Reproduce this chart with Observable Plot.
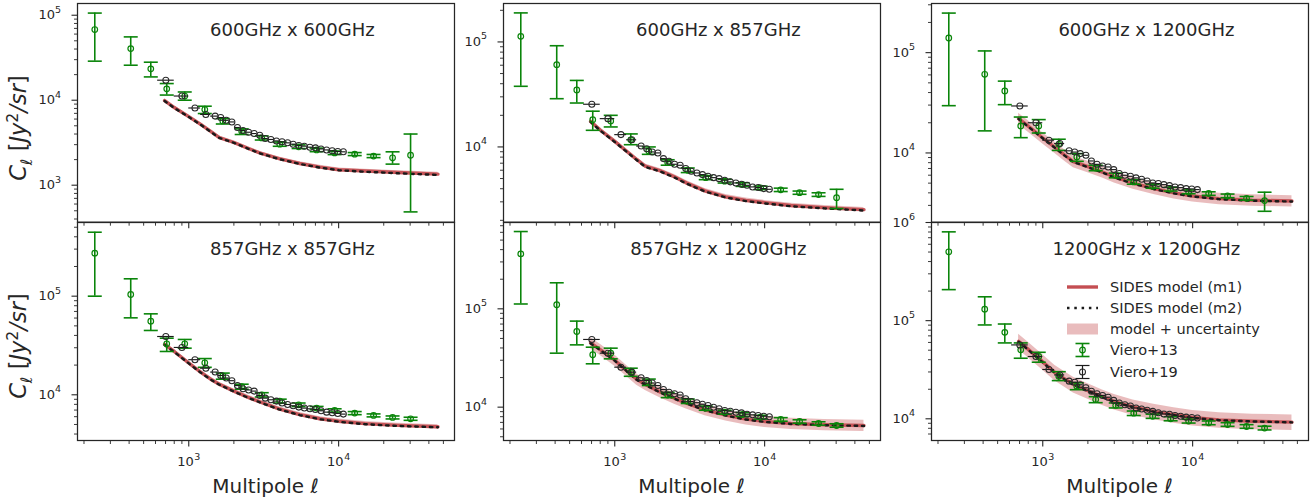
<!DOCTYPE html>
<html>
<head>
<meta charset="utf-8">
<script src="https://cdn.jsdelivr.net/npm/d3@7"></script>
<script src="https://cdn.jsdelivr.net/npm/@observablehq/plot@0.6"></script>
<style>
  body { margin: 0; background: #fff; }
  #wrap { position: relative; width: 1316px; height: 499px; overflow: hidden; background: #fff;
          font-family: "DejaVu Sans", sans-serif; color: #262626; }
  .panel { position: absolute; }
  .xt { position: absolute; font-size: 20px; transform: translate(-50%, -50%); white-space: nowrap; }
  .yt { position: absolute; font-size: 22.5px; transform: translate(-50%, -50%) rotate(-90deg); white-space: nowrap; }
  .lg { position: absolute; font-size: 14.5px; white-space: nowrap; transform: translateY(-50%); }
  .sw { position: absolute; }
</style>
</head>
<body>
<div id="wrap"></div>
<script>
// ---------------- DATA ----------------
const TITLES = ["600GHz x 600GHz", "600GHz x 857GHz", "600GHz x 1200GHz",
                "857GHz x 857GHz", "857GHz x 1200GHz", "1200GHz x 1200GHz"];

const X_DOMAIN = [181, 59300];
const X_MAJOR = [1000, 10000];
const X_MAJOR_EXP = ["3", "4"];

const Y_DOMAINS = [[367, 137400], [1920, 232300], [2040, 309000],
                   [3440, 558500], [4580, 755000], [6010, 1000000]];
const Y_MAJOR = [[1e3, 1e4, 1e5], [1e4, 1e5], [1e4, 1e5], [1e4, 1e5], [1e4, 1e5], [1e4, 1e5, 1e6]];
const Y_MAJOR_EXP = {1000: "3", 10000: "4", 100000: "5", 1000000: "6"};

// Viero+13 multipoles
const ELL_V13 = [236, 410, 558, 713, 940, 1279, 1687, 2255, 3069, 4046, 5408, 7131, 9404, 12800, 17100, 22900, 30200];
// Viero+19 multipoles and bin edges
const ELL_V19 = [703, 900, 1100, 1300, 1500, 1634, 1780, 1940, 2113, 2302, 2508, 2732, 2976, 3242,
                 3532, 3848, 4192, 4567, 4975, 5420, 5904, 6432, 7007, 7634, 8316, 9060, 9870, 10752];
const V19_BIN_EDGES = [620, 800, 1000, 1200, 1400, 1570, 1710, 1860, 2030, 2210, 2400, 2620, 2850, 3110, 3390,
                       3690, 4020, 4380, 4770, 5200, 5660, 6170, 6720, 7320, 7970, 8690, 9460, 10310, 11230];
// model multipoles
const ELL_MODEL = [690, 800, 1000, 1200, 1400, 1600, 2000, 2500, 3000, 4000, 5500, 7500, 10000, 15000, 25000, 46000];

// Viero+13 values, lower and upper error bounds (Jy^2/sr), one row per panel
const V13 = [
  [67800, 40500, 23400, 13600, 11200, 7760, 5700, 4300, 3600, 3040, 2830, 2600, 2400, 2320, 2200, 2100, 2250],
  [113000, 60800, 34900, 18200, 17700, 11700, 9160, 7100, 6000, 5100, 4720, 4380, 4080, 3900, 3670, 3520, 3290],
  [140000, 60800, 41500, 18600, 18600, 12200, 9120, 7080, 5980, 5140, 4650, 4350, 4090, 3940, 3730, 3530, 3350],
  [273000, 104000, 55800, 32900, 32900, 21100, 15500, 12100, 10000, 8630, 7920, 7330, 6940, 6520, 6180, 5890, 5710],
  [362000, 110000, 58800, 34100, 35400, 22700, 17900, 13300, 11500, 9770, 8900, 8420, 7910, 7500, 7150, 6820, 6510],
  [503000, 131000, 76000, 50400, 43100, 27200, 21500, 15700, 13700, 11400, 10600, 10000, 9470, 9100, 8750, 8350, 8040]
];
const V13_LO = [
  [28800, 25800, 18800, 11500, 10000, 6970, 5250, 3950, 3400, 2870, 2700, 2480, 2290, 2230, 2110, 1770, 485],
  [37800, 28800, 26200, 14400, 15500, 10500, 8500, 6700, 5700, 4880, 4530, 4210, 3930, 3760, 3540, 3380, 2590],
  [29600, 16600, 30300, 14200, 15800, 10600, 8250, 6650, 5650, 4880, 4450, 4170, 3920, 3780, 3580, 3390, 2620],
  [100000, 60300, 44900, 27500, 29700, 19000, 14400, 11400, 9500, 8250, 7600, 7050, 6680, 6290, 5970, 5690, 5510],
  [112000, 35400, 43000, 27600, 31000, 20600, 16600, 12500, 10900, 9300, 8500, 8050, 7570, 7200, 6870, 6550, 6250],
  [207000, 90400, 59300, 41400, 37700, 24500, 19800, 14600, 12900, 10800, 10100, 9550, 9050, 8700, 8380, 8000, 7700]
];
const V13_HI = [
  [106000, 55600, 28000, 15700, 12500, 8500, 6080, 4600, 3800, 3220, 2980, 2730, 2520, 2420, 2300, 2470, 4000],
  [189000, 92000, 43000, 21900, 20000, 13300, 10000, 7550, 6300, 5330, 4920, 4560, 4240, 4050, 3800, 3660, 3950],
  [248000, 104000, 52000, 22800, 21500, 13700, 9850, 7550, 6300, 5400, 4860, 4540, 4270, 4100, 3890, 3680, 4060],
  [445000, 150000, 66200, 37500, 36400, 23300, 16600, 12800, 10500, 9030, 8250, 7620, 7210, 6760, 6400, 6100, 5920],
  [611000, 184000, 75000, 40700, 39800, 24900, 19300, 14100, 12100, 10250, 9300, 8800, 8260, 7820, 7440, 7100, 6780],
  [803000, 175000, 92400, 59300, 47600, 30200, 23300, 16800, 14500, 12000, 11150, 10500, 9900, 9500, 9130, 8720, 8400]
];

// Viero+19 values
const V19 = [
  [17200, 11200, 8100, 6800, 6500, 6250, 5800, 5550, 4770, 4400, 4200, 4050, 3870, 3540, 3450, 3320, 3240, 3150, 3040, 2930, 2880, 2800, 2750, 2670, 2600, 2540, 2490, 2470],
  [25500, 18600, 13100, 11700, 10200, 9600, 8960, 8770, 7740, 7300, 6840, 6690, 6220, 5870, 5650, 5450, 5260, 5100, 4990, 4820, 4650, 4540, 4410, 4310, 4160, 4100, 4010, 3950],
  [29400, 20000, 13400, 12400, 10500, 10200, 9850, 9480, 8320, 7700, 7420, 7250, 6820, 6230, 5990, 5850, 5640, 5470, 5260, 5020, 4950, 4830, 4720, 4580, 4510, 4410, 4380, 4310],
  [39000, 30200, 22700, 18600, 17000, 15700, 14800, 13900, 12400, 11500, 11200, 10900, 9850, 9250, 8900, 8630, 8240, 7980, 7740, 7500, 7330, 7210, 7100, 6880, 6670, 6580, 6470, 6370],
  [48800, 35400, 25500, 22700, 19900, 18700, 17600, 16600, 15100, 14200, 13700, 13300, 12200, 11400, 11100, 10700, 10400, 10000, 9620, 9250, 9100, 8890, 8750, 8480, 8350, 8230, 8090, 7970],
  [56600, 43100, 31800, 28000, 24200, 23600, 22200, 20700, 19100, 18000, 17300, 16600, 15400, 14500, 13900, 13500, 12900, 12600, 12200, 11900, 11500, 11200, 11100, 10800, 10600, 10400, 10300, 10200]
];

// SIDES model m1 and m2
const MODEL_M1 = [
  [9900, 8200, 6400, 5200, 4300, 3620, 3180, 2700, 2380, 2050, 1800, 1630, 1520, 1470, 1410, 1350],
  [17500, 14500, 11300, 9100, 7600, 6550, 5950, 5200, 4550, 3820, 3350, 3100, 2950, 2770, 2640, 2530],
  [22000, 18500, 14100, 11400, 9500, 8200, 7300, 6450, 5770, 5000, 4420, 4000, 3720, 3500, 3380, 3320],
  [32400, 27500, 21000, 17000, 14400, 12800, 10900, 9400, 8450, 7200, 6300, 5720, 5400, 5100, 4900, 4740],
  [45000, 38500, 30000, 23500, 19200, 17000, 14300, 12300, 11000, 9400, 8300, 7550, 7150, 6820, 6620, 6500],
  [61500, 51000, 38000, 29700, 25500, 22400, 19300, 16700, 15000, 13200, 11900, 11000, 10300, 9750, 9450, 9250]
];
const MODEL_M2 = [
  [9800, 8100, 6350, 5150, 4250, 3600, 3150, 2680, 2360, 2030, 1780, 1610, 1500, 1440, 1380, 1320],
  [17300, 14300, 11150, 9000, 7500, 6450, 5850, 5120, 4480, 3760, 3300, 3050, 2900, 2720, 2600, 2480],
  [21800, 18300, 14000, 11300, 9400, 8120, 7220, 6380, 5700, 4950, 4370, 3950, 3680, 3460, 3340, 3280],
  [32000, 27200, 20800, 16800, 14250, 12650, 10800, 9300, 8350, 7120, 6230, 5650, 5330, 5030, 4830, 4680],
  [44500, 38100, 29700, 23300, 19000, 16800, 14150, 12200, 10900, 9300, 8220, 7480, 7080, 6750, 6560, 6440],
  [61000, 50500, 37600, 29400, 25200, 22200, 19100, 16550, 14850, 13080, 11800, 10900, 10200, 9680, 9400, 9200]
];
// relative model uncertainty (band half-width) per panel
const MODEL_UNC = [0.05, 0.05, 0.13, 0.05, 0.13, 0.18];

const LEGEND_LABELS = ["SIDES model (m1)", "SIDES model (m2)", "model + uncertainty", "Viero+13", "Viero+19"];

// ---------------- STYLE / LAYOUT ----------------
const RED = "#c44e52", GREEN = "#0a850a", BLACK = "#1a1a1a", INK = "#262626";
const DOTS = "2.5,4.8";
const FRAME_X = [77, 503, 931];
const FRAME_W = 377;
const FRAME_Y = [3.3, 222];
const FRAME_H = [218.7, 218];

const capSym = {draw(ctx) { ctx.moveTo(-7, 0); ctx.lineTo(7, 0); }};
const leftTick = len => ({draw(ctx) { ctx.moveTo(0, 0); ctx.lineTo(-len, 0); }});
const downTick = len => ({draw(ctx) { ctx.moveTo(0, 0); ctx.lineTo(0, len); }});

function minorTicks([lo, hi]) {
  const out = [];
  for (let d = Math.floor(Math.log10(lo)); d <= Math.ceil(Math.log10(hi)); d++)
    for (let k = 2; k <= 9; k++) { const v = k * 10 ** d; if (v >= lo && v <= hi) out.push(v); }
  return out;
}

const wrap = document.getElementById("wrap");

for (let i = 0; i < 6; i++) {
  const col = i % 3, row = Math.floor(i / 3);
  const ml = 60, mr = 14, mt = 14, mb = 40;
  const yd = Y_DOMAINS[i];
  const model = ELL_MODEL.map((ell, j) => ({ell, m1: MODEL_M1[i][j], m2: MODEL_M2[i][j],
    lo: MODEL_M1[i][j] * (1 - MODEL_UNC[i]), hi: MODEL_M1[i][j] * (1 + MODEL_UNC[i])}));
  const v13 = ELL_V13.map((ell, j) => ({ell, y: V13[i][j], lo: V13_LO[i][j], hi: V13_HI[i][j]}));
  const v19 = ELL_V19.map((ell, j) => ({ell, y: V19[i][j], lo: V19_BIN_EDGES[j], hi: V19_BIN_EDGES[j + 1]}));
  const yMajor = Y_MAJOR[i].filter(v => v >= yd[0] * 0.999 && v <= yd[1] * 1.001);

  const marks = [
    Plot.areaY(model, {x: "ell", y1: "lo", y2: "hi", fill: RED, fillOpacity: 0.38}),
    Plot.line(model, {x: "ell", y: "m1", stroke: RED, strokeWidth: 3.4, strokeOpacity: 0.95}),
    Plot.line(model, {x: "ell", y: "m2", stroke: BLACK, strokeWidth: 2.4, strokeDasharray: DOTS}),
    Plot.ruleX(v13, {x: "ell", y1: "lo", y2: "hi", stroke: GREEN, strokeWidth: 1.6}),
    Plot.dot(v13, {x: "ell", y: "lo", symbol: capSym, stroke: GREEN, fill: "none", strokeWidth: 1.6}),
    Plot.dot(v13, {x: "ell", y: "hi", symbol: capSym, stroke: GREEN, fill: "none", strokeWidth: 1.6}),
    Plot.dot(v13, {x: "ell", y: "y", r: 2.8, stroke: GREEN, fill: "none", strokeWidth: 1.2}),
    Plot.ruleY(v19, {y: "y", x1: "lo", x2: "hi", stroke: BLACK, strokeWidth: 1.15}),
    Plot.dot(v19, {x: "ell", y: "y", r: 3, stroke: "#2a2a2a", fill: "none", strokeWidth: 1.05}),
    Plot.frame({stroke: INK, strokeWidth: 1.25}),
    Plot.dot(X_MAJOR, {x: d => d, frameAnchor: "bottom", symbol: downTick(6), stroke: INK, fill: "none", strokeWidth: 1.1}),
    Plot.dot(minorTicks(X_DOMAIN), {x: d => d, frameAnchor: "bottom", symbol: downTick(3.5), stroke: INK, fill: "none", strokeWidth: 0.9}),
    Plot.dot(yMajor, {y: d => d, frameAnchor: "left", symbol: leftTick(6), stroke: INK, fill: "none", strokeWidth: 1.1}),
    Plot.dot(minorTicks(yd), {y: d => d, frameAnchor: "left", symbol: leftTick(3.5), stroke: INK, fill: "none", strokeWidth: 0.9}),
    // y tick labels: "10" + superscript exponent
    Plot.text(yMajor, {y: d => d, frameAnchor: "left", text: () => "10", textAnchor: "end", lineAnchor: "middle", dx: -22.5, fontSize: 13, fill: INK}),
    Plot.text(yMajor, {y: d => d, frameAnchor: "left", text: d => Y_MAJOR_EXP[d], textAnchor: "end", lineAnchor: "middle", dx: -16.5, dy: -5.5, fontSize: 9.5, fill: INK}),
    Plot.text([TITLES[i]], {frameAnchor: "top-left", dx: 0.57 * FRAME_W, dy: row === 0 ? 26.5 : 27, text: d => d,
      textAnchor: "middle", lineAnchor: "middle", fontSize: 18, fill: INK})
  ];
  if (row === 1) {
    marks.push(Plot.text(X_MAJOR, {x: d => d, frameAnchor: "bottom", dy: 21.5, dx: 5, text: () => "10",
      textAnchor: "end", lineAnchor: "middle", fontSize: 13, fill: INK}));
    marks.push(Plot.text(X_MAJOR, {x: d => d, frameAnchor: "bottom", dy: 16, dx: 5.5, text: (d, k) => X_MAJOR_EXP[k],
      textAnchor: "start", lineAnchor: "middle", fontSize: 9.5, fill: INK}));
  }

  const svg = Plot.plot({
    width: FRAME_W + ml + mr,
    height: FRAME_H[row] + mt + mb,
    marginLeft: ml, marginRight: mr, marginTop: mt, marginBottom: mb,
    x: {type: "log", domain: X_DOMAIN, axis: null},
    y: {type: "log", domain: yd, axis: null},
    style: {overflow: "visible", background: "transparent", fontFamily: "DejaVu Sans", color: INK},
    marks
  });
  svg.classList.add("panel");
  svg.style.left = (FRAME_X[col] - ml) + "px";
  svg.style.top = (FRAME_Y[row] - mt) + "px";
  svg.style.maxWidth = "none";
  wrap.appendChild(svg);
}

// axis titles
function addHTML(cls, html, x, y) {
  const d = document.createElement("div");
  d.className = cls; d.innerHTML = html;
  d.style.left = x + "px"; d.style.top = y + "px";
  wrap.appendChild(d);
}
for (let c = 0; c < 3; c++) addHTML("xt", "Multipole <i>ℓ</i>", FRAME_X[c] + FRAME_W / 2, 486);
const ylab = "<i>C</i><sub style='font-size:0.7em'><i>ℓ</i></sub> [<i>Jy</i><sup style='font-size:0.7em'>2</sup><i>/sr</i>]";
addHTML("yt", ylab, 19, 128);
addHTML("yt", ylab, 19, 346);

// legend (inside lower-right panel)
const LEG_Y = [287, 307.5, 328.5, 350, 371.5];
const swatches = [
  `<line x1="1" x2="32" y1="10" y2="10" stroke="${RED}" stroke-width="3.4"/>`,
  `<line x1="1" x2="32" y1="10" y2="10" stroke="${BLACK}" stroke-width="2.4" stroke-dasharray="${DOTS}"/>`,
  `<rect x="1" y="4.5" width="31" height="11" fill="${RED}" fill-opacity="0.38"/>`,
  `<line x1="16.5" x2="16.5" y1="3.5" y2="16.5" stroke="${GREEN}" stroke-width="1.6"/><line x1="9.5" x2="23.5" y1="3.5" y2="3.5" stroke="${GREEN}" stroke-width="1.6"/><line x1="9.5" x2="23.5" y1="16.5" y2="16.5" stroke="${GREEN}" stroke-width="1.6"/><circle cx="16.5" cy="10" r="2.8" fill="none" stroke="${GREEN}" stroke-width="1.2"/>`,
  `<line x1="16.5" x2="16.5" y1="3.5" y2="16.5" stroke="${BLACK}" stroke-width="1.2"/><line x1="9.5" x2="23.5" y1="3.5" y2="3.5" stroke="${BLACK}" stroke-width="1.2"/><line x1="9.5" x2="23.5" y1="16.5" y2="16.5" stroke="${BLACK}" stroke-width="1.2"/><circle cx="16.5" cy="10" r="3" fill="none" stroke="#2a2a2a" stroke-width="1.05"/>`
];
LEGEND_LABELS.forEach((lab, k) => {
  const s = document.createElementNS("http://www.w3.org/2000/svg", "svg");
  s.setAttribute("width", 34); s.setAttribute("height", 20);
  s.setAttribute("class", "sw");
  s.style.left = "1066px"; s.style.top = (LEG_Y[k] - 10) + "px";
  s.innerHTML = swatches[k];
  wrap.appendChild(s);
  addHTML("lg", lab, 1110, LEG_Y[k]);
});
</script>
</body>
</html>
